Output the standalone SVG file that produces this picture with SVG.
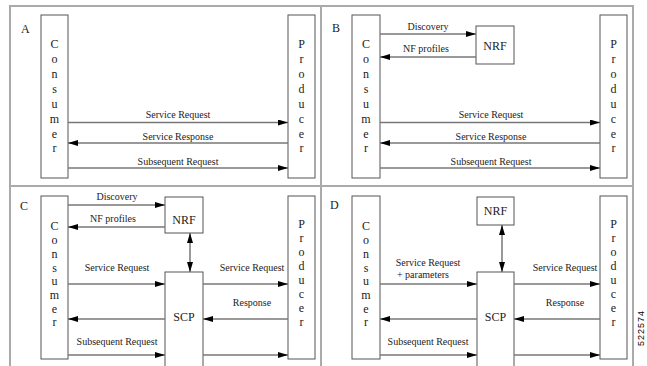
<svg xmlns="http://www.w3.org/2000/svg" width="647" height="366" viewBox="0 0 647 366">
<defs>
<marker id="ah" viewBox="0 0 10 6" refX="10" refY="3" markerWidth="10" markerHeight="6" orient="auto-start-reverse" markerUnits="userSpaceOnUse"><path d="M0,0 L10,3 L0,6 z" fill="#000"/></marker>
<style>
.frame{fill:none;stroke:#aaa;stroke-width:2}
.box{fill:#fff;stroke:#555;stroke-width:1}
.ar{stroke:#777;stroke-width:1.5;fill:none;marker-end:url(#ah)}
.ar2{stroke:#777;stroke-width:1.5;fill:none;marker-end:url(#ah);marker-start:url(#ah)}
text{font-family:'Liberation Serif','Times New Roman','DejaVu Serif',serif}
.lbl{font-size:10px;fill:#222;text-anchor:middle}
.big{font-size:12px;fill:#222;text-anchor:middle}
.quad{font-size:12px;fill:#222}
.id{font-family:'Liberation Sans',Arial,sans-serif;font-size:9px;fill:#000}
</style>
</defs>
<rect width="647" height="366" fill="#fff"/>
<g id="frame">
<rect class="frame" x="10" y="6" width="623" height="370"/>
<line class="frame" x1="321" y1="6" x2="321" y2="366"/>
<line class="frame" x1="10" y1="186" x2="633" y2="186"/>
</g>
<g font-family="Liberation Serif, serif">
<g id="quad-labels">
<text class="quad" x="21" y="33">A</text>
<text class="quad" x="332" y="32">B</text>
<text class="quad" x="20" y="210">C</text>
<text class="quad" x="330" y="209">D</text>
</g>

<g id="A-consumer">
<rect class="box" x="41" y="15" width="27" height="163"/>
<text class="big"><tspan x="54.5" y="48">C</tspan><tspan x="54.5" y="63">o</tspan><tspan x="54.5" y="78">n</tspan><tspan x="54.5" y="93">s</tspan><tspan x="54.5" y="108">u</tspan><tspan x="54.5" y="123">m</tspan><tspan x="54.5" y="138">e</tspan><tspan x="54.5" y="152">r</tspan></text>
</g>
<g id="A-producer">
<rect class="box" x="288" y="15" width="27" height="163"/>
<text class="big"><tspan x="301.5" y="48">P</tspan><tspan x="301.5" y="63">r</tspan><tspan x="301.5" y="78">o</tspan><tspan x="301.5" y="93">d</tspan><tspan x="301.5" y="108">u</tspan><tspan x="301.5" y="123">c</tspan><tspan x="301.5" y="138">e</tspan><tspan x="301.5" y="152">r</tspan></text>
</g>

<g id="B-consumer">
<rect class="box" x="352" y="15" width="28" height="163"/>
<text class="big"><tspan x="366" y="48">C</tspan><tspan x="366" y="63">o</tspan><tspan x="366" y="78">n</tspan><tspan x="366" y="93">s</tspan><tspan x="366" y="108">u</tspan><tspan x="366" y="123">m</tspan><tspan x="366" y="138">e</tspan><tspan x="366" y="152">r</tspan></text>
</g>
<g id="B-producer">
<rect class="box" x="600" y="15" width="27" height="163"/>
<text class="big"><tspan x="613.5" y="48">P</tspan><tspan x="613.5" y="63">r</tspan><tspan x="613.5" y="78">o</tspan><tspan x="613.5" y="93">d</tspan><tspan x="613.5" y="108">u</tspan><tspan x="613.5" y="123">c</tspan><tspan x="613.5" y="138">e</tspan><tspan x="613.5" y="152">r</tspan></text>
</g>
<g id="B-nrf">
<rect class="box" x="476" y="26" width="38" height="38"/>
<text class="big" x="495" y="50">NRF</text>
</g>

<g id="C-consumer">
<rect class="box" x="41" y="196" width="27" height="163"/>
<text class="big"><tspan x="54.5" y="230">C</tspan><tspan x="54.5" y="244">o</tspan><tspan x="54.5" y="258">n</tspan><tspan x="54.5" y="272">s</tspan><tspan x="54.5" y="285">u</tspan><tspan x="54.5" y="299">m</tspan><tspan x="54.5" y="313">e</tspan><tspan x="54.5" y="326">r</tspan></text>
</g>
<g id="C-producer">
<rect class="box" x="288" y="196" width="27" height="163"/>
<text class="big"><tspan x="301.5" y="228">P</tspan><tspan x="301.5" y="242">r</tspan><tspan x="301.5" y="256">o</tspan><tspan x="301.5" y="270">d</tspan><tspan x="301.5" y="284">u</tspan><tspan x="301.5" y="298">c</tspan><tspan x="301.5" y="312">e</tspan><tspan x="301.5" y="326">r</tspan></text>
</g>
<g id="C-nrf">
<rect class="box" x="165" y="197" width="38" height="36"/>
<text class="big" x="184" y="224">NRF</text>
</g>
<g id="C-scp">
<rect class="box" x="165" y="272" width="38" height="100"/>
<text class="big" x="184" y="321">SCP</text>
</g>

<g id="D-consumer">
<rect class="box" x="352" y="196" width="28" height="163"/>
<text class="big"><tspan x="366" y="230">C</tspan><tspan x="366" y="244">o</tspan><tspan x="366" y="258">n</tspan><tspan x="366" y="272">s</tspan><tspan x="366" y="285">u</tspan><tspan x="366" y="299">m</tspan><tspan x="366" y="313">e</tspan><tspan x="366" y="326">r</tspan></text>
</g>
<g id="D-producer">
<rect class="box" x="600" y="196" width="27" height="163"/>
<text class="big"><tspan x="613.5" y="228">P</tspan><tspan x="613.5" y="242">r</tspan><tspan x="613.5" y="256">o</tspan><tspan x="613.5" y="270">d</tspan><tspan x="613.5" y="284">u</tspan><tspan x="613.5" y="298">c</tspan><tspan x="613.5" y="312">e</tspan><tspan x="613.5" y="326">r</tspan></text>
</g>
<g id="D-nrf">
<rect class="box" x="477" y="197" width="37" height="28"/>
<text class="big" x="495.5" y="215">NRF</text>
</g>
<g id="D-scp">
<rect class="box" x="477" y="272" width="37" height="100"/>
<text class="big" x="495.5" y="321">SCP</text>
</g>
</g>

<g id="connectors">
<line class="ar" x1="68" y1="122.5" x2="288" y2="122.5"/>
<line class="ar" x1="288" y1="143" x2="68" y2="143"/>
<line class="ar" x1="68" y1="168" x2="288" y2="168"/>
<line class="ar" x1="380" y1="34" x2="476" y2="34"/>
<line class="ar" x1="476" y1="57" x2="380" y2="57"/>
<line class="ar" x1="380" y1="122.5" x2="600" y2="122.5"/>
<line class="ar" x1="600" y1="143" x2="380" y2="143"/>
<line class="ar" x1="380" y1="168" x2="600" y2="168"/>
<line class="ar" x1="68" y1="205" x2="165" y2="205"/>
<line class="ar" x1="165" y1="227" x2="68" y2="227"/>
<line class="ar2" x1="190" y1="233" x2="190" y2="272"/>
<line class="ar" x1="68" y1="284" x2="165" y2="284"/>
<line class="ar" x1="203" y1="284" x2="288" y2="284"/>
<line class="ar" x1="288" y1="319" x2="203" y2="319"/>
<line class="ar" x1="165" y1="319" x2="68" y2="319"/>
<line class="ar" x1="68" y1="355" x2="165" y2="355"/>
<line class="ar" x1="203" y1="355" x2="288" y2="355"/>
<line class="ar2" x1="502" y1="225" x2="502" y2="272"/>
<line class="ar" x1="380" y1="284" x2="477" y2="284"/>
<line class="ar" x1="514" y1="284" x2="600" y2="284"/>
<line class="ar" x1="600" y1="319" x2="514" y2="319"/>
<line class="ar" x1="477" y1="319" x2="380" y2="319"/>
<line class="ar" x1="380" y1="355" x2="477" y2="355"/>
<line class="ar" x1="514" y1="355" x2="600" y2="355"/>
</g>

<g id="labels" font-family="Liberation Serif, serif">
<text class="lbl" x="178" y="118">Service Request</text>
<text class="lbl" x="178" y="140">Service Response</text>
<text class="lbl" x="178" y="165">Subsequent Request</text>
<text class="lbl" x="428" y="30">Discovery</text>
<text class="lbl" x="426" y="52">NF profiles</text>
<text class="lbl" x="491" y="118">Service Request</text>
<text class="lbl" x="491" y="140">Service Response</text>
<text class="lbl" x="491" y="165">Subsequent Request</text>
<text class="lbl" x="117" y="200">Discovery</text>
<text class="lbl" x="113" y="222">NF profiles</text>
<text class="lbl" x="117" y="271">Service Request</text>
<text class="lbl" x="252" y="271">Service Request</text>
<text class="lbl" x="252" y="306">Response</text>
<text class="lbl" x="117" y="345">Subsequent Request</text>
<text class="lbl" x="428" y="266">Service Request</text>
<text class="lbl" x="423" y="278">+ parameters</text>
<text class="lbl" x="565" y="271">Service Request</text>
<text class="lbl" x="565" y="306">Response</text>
<text class="lbl" x="428" y="345">Subsequent Request</text>
</g>
<text class="id" transform="translate(644,346) rotate(-90)" letter-spacing="1">522574</text>
</svg>
